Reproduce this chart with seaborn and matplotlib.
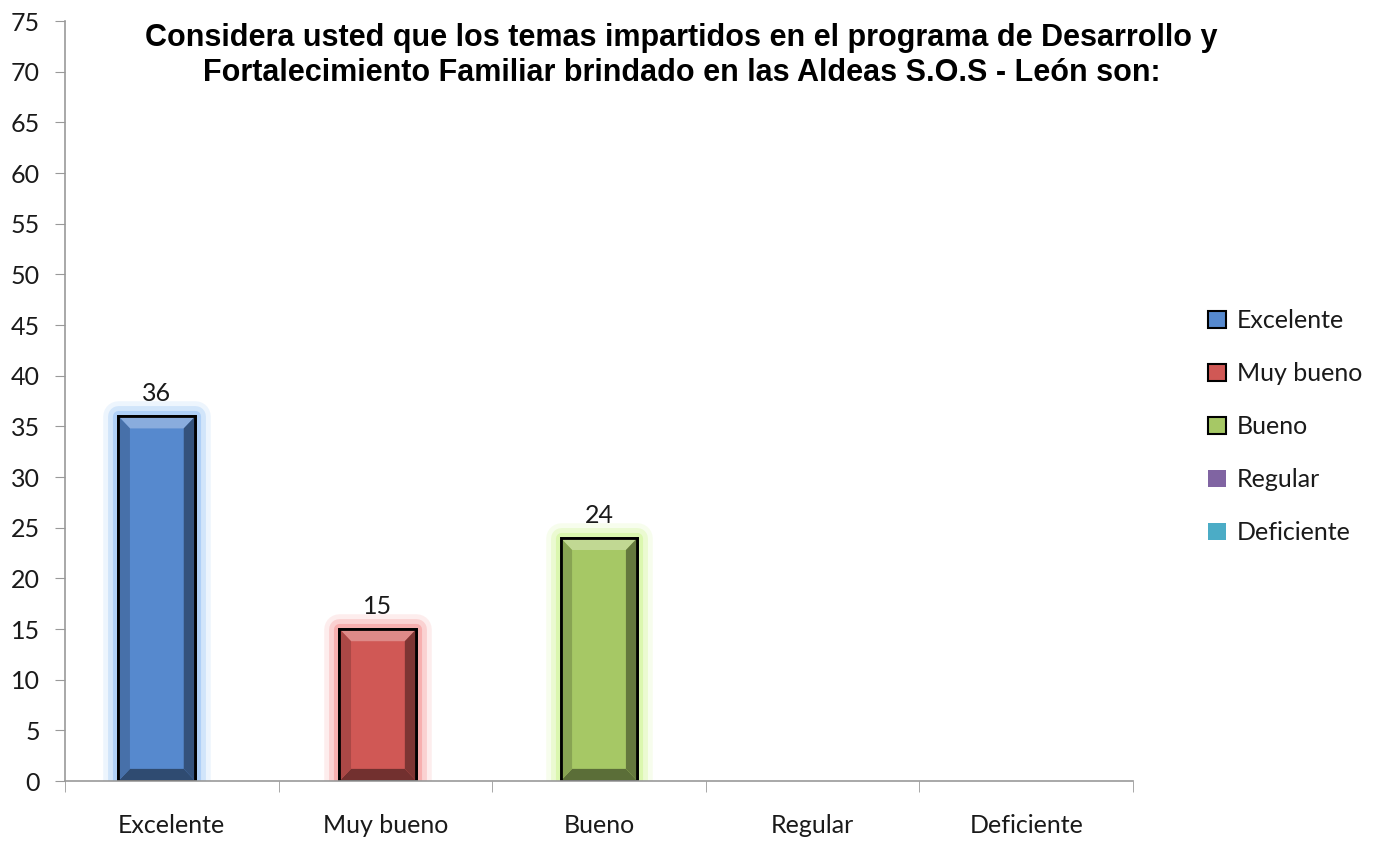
import numpy as np
import pandas as pd
import seaborn as sns
import matplotlib.pyplot as plt
import matplotlib.patheffects as pe
from matplotlib.patches import Patch, Polygon
from matplotlib.colors import to_rgb

# data
categorias = ["Excelente", "Muy bueno", "Bueno", "Regular", "Deficiente"]
valores = [36, 15, 24, 0, 0]
colores = ["#5689CE", "#D05855", "#A6C865", "#8064A2", "#4BACC6"]
brillo = ["#A9CDF7", "#F7A9A9", "#D9F7A9", "#C8B6E0", "#A9E2F0"]
titulo = ("Considera usted que los temas impartidos en el programa de Desarrollo y\n"
          "Fortalecimiento Familiar brindado en las Aldeas S.O.S - León son:")

df = pd.DataFrame({"categoria": categorias, "valor": valores})


def mezcla(c, otro, t):
    a = np.array(to_rgb(c))
    b = np.array(to_rgb(otro))
    return tuple(a * (1 - t) + b * t)


sns.set_style("white")
plt.rcParams["font.family"] = ["Lato", "DejaVu Sans"]

fig = plt.figure(figsize=(13.74, 8.43), dpi=100)
ax = fig.add_axes([0.0473, 0.0735, 0.7773, 0.9015])

sns.barplot(data=df, x="categoria", y="valor", hue="categoria", palette=colores,
            saturation=1, legend=False, width=0.36, edgecolor="black", linewidth=2, ax=ax)

ax.set_ylim(0, 75)
ax.set_xlim(-0.5, 4.5)

# excel clustered offsets (5 series, one value each)
for i, (p, v, g, col) in enumerate(zip(ax.patches, valores, brillo, colores)):
    p.set_x(p.get_x() + (i - 2) * 0.035)
    if v == 0:
        p.set_visible(False)
        continue
    p.set_path_effects([pe.Stroke(linewidth=22, foreground=g, alpha=0.2, joinstyle="round"),
                        pe.Stroke(linewidth=15, foreground=g, alpha=0.4, joinstyle="round"),
                        pe.Stroke(linewidth=8, foreground=g, alpha=0.85, joinstyle="round"),
                        pe.Normal()])
    x0, w, h = p.get_x(), p.get_width(), p.get_height()
    x1 = x0 + w
    bx = w * 0.15
    by = 1.2
    caras = [
        ([(x0, h), (x1, h), (x1 - bx, h - by), (x0 + bx, h - by)], mezcla(col, "white", 0.3)),
        ([(x0, 0), (x1, 0), (x1 - bx, by), (x0 + bx, by)], mezcla(col, "black", 0.45)),
        ([(x0, 0), (x0, h), (x0 + bx, h - by), (x0 + bx, by)], mezcla(col, "black", 0.18)),
        ([(x1, 0), (x1, h), (x1 - bx, h - by), (x1 - bx, by)], mezcla(col, "black", 0.4)),
    ]
    for pts, fc in caras:
        ax.add_patch(Polygon(pts, closed=True, facecolor=fc, edgecolor="none", zorder=p.get_zorder() + 0.1))
    ax.add_patch(Polygon([(x0, 0), (x1, 0), (x1, h), (x0, h)], closed=True, facecolor="none",
                         edgecolor="black", linewidth=2, zorder=p.get_zorder() + 0.2))
    ax.text(x0 + w / 2, v + 1.1, str(v), ha="center", va="bottom", fontsize=18, color="#1a1a1a")

ax.set_yticks(np.arange(0, 76, 5))
ax.set_xticks(np.arange(-0.5, 5, 1), minor=True)
ax.tick_params(axis="x", which="major", length=0, pad=24, labelsize=18, colors="#1a1a1a")
ax.tick_params(axis="x", which="minor", length=8, color="#999999", direction="out", bottom=True)
ax.tick_params(axis="y", length=7, color="#999999", direction="out", pad=11,
               labelsize=18, colors="#1a1a1a", left=True)
ax.set_xlabel("")
ax.set_ylabel("")
for s in ["top", "right"]:
    ax.spines[s].set_visible(False)
for s in ["left", "bottom"]:
    ax.spines[s].set_color("#999999")
    ax.spines[s].set_linewidth(1.2)

fig.text(0.496, 0.934, titulo, ha="center", va="center", fontsize=22, fontweight="bold",
         family=["Liberation Sans", "DejaVu Sans"], linespacing=1.2, color="black")

handles = []
for i, (c, col) in enumerate(zip(categorias, colores)):
    if valores[i] > 0:
        handles.append(Patch(facecolor=col, edgecolor="black", linewidth=1.5, label=c))
    else:
        handles.append(Patch(facecolor=col, edgecolor="none", label=c))
fig.legend(handles=handles, loc="center left", bbox_to_anchor=(0.863, 0.494), frameon=False,
           fontsize=18, handlelength=0.7, handleheight=0.7, handletextpad=0.45,
           labelspacing=1.2, labelcolor="#1a1a1a")

fig.savefig("out.png", dpi=100)
